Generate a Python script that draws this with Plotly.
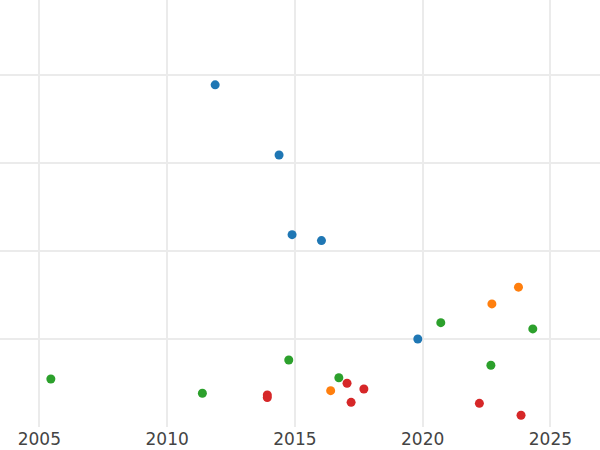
import plotly.graph_objects as go

# Year (x) and value (y) for each group
blue_x = [2011.88, 2014.38, 2014.89, 2016.04, 2019.81]
blue_y = [3.886, 3.09, 2.185, 2.117, 1.0]

orange_x = [2016.40, 2022.71, 2023.75]
orange_y = [0.413, 1.398, 1.588]

green_x = [2005.45, 2011.38, 2014.76, 2016.72, 2020.71, 2022.67, 2024.31]
green_y = [0.545, 0.383, 0.761, 0.56, 1.185, 0.701, 1.114]

red_x = [2013.92, 2013.92, 2017.04, 2017.20, 2017.70, 2022.22, 2023.85]
red_y = [0.364, 0.335, 0.497, 0.28, 0.432, 0.269, 0.133]

x_ticks = [2005, 2010, 2015, 2020, 2025]
y_ticks = [0, 1, 2, 3, 4]

fig = go.Figure()
for xs, ys, color in [
    (blue_x, blue_y, "#1f77b4"),
    (orange_x, orange_y, "#ff7f0e"),
    (green_x, green_y, "#2ca02c"),
    (red_x, red_y, "#d62728"),
]:
    fig.add_trace(
        go.Scatter(
            x=xs,
            y=ys,
            mode="markers",
            marker=dict(color=color, size=9),
            showlegend=False,
        )
    )

fig.update_layout(
    width=600,
    height=450,
    paper_bgcolor="white",
    plot_bgcolor="white",
    font=dict(family="DejaVu Sans", size=17, color="#444444"),
    margin=dict(l=0, r=0, t=0, b=23),
    xaxis=dict(
        range=[2003.46, 2026.94],
        tickvals=x_ticks,
        showgrid=True,
        gridcolor="#ebebeb",
        gridwidth=2,
        zeroline=False,
        showline=False,
        ticks="",
        automargin=False,
    ),
    yaxis=dict(
        range=[0, 4.85],
        tickvals=y_ticks,
        showticklabels=False,
        showgrid=True,
        gridcolor="#ebebeb",
        gridwidth=2,
        zeroline=False,
        showline=False,
        ticks="",
        automargin=False,
    ),
)

# the page body has a default 8px margin; drop it so the figure fills the window
fig.write_html(
    "out.html",
    config={"displayModeBar": False},
    post_script="document.body.style.margin='0';",
)
